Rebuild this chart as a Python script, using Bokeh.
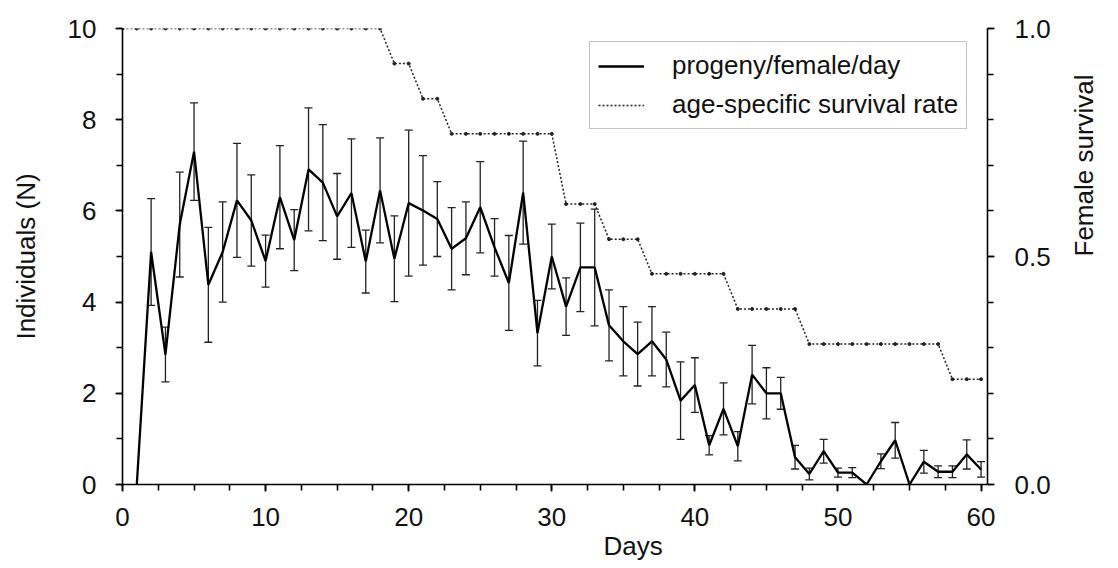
import math
from bokeh.plotting import figure
from bokeh.models import (Range1d, LinearAxis, Whisker, TeeHead, ColumnDataSource,
                          Legend, LegendItem, Title, SingleIntervalTicker, PrintfTickFormatter)
from bokeh.embed import file_html
from bokeh.resources import INLINE

# ---------------- data ----------------
days = [1, 2, 3, 4, 5, 6, 7, 8, 9, 10, 11, 12, 13, 14, 15, 16, 17, 18, 19, 20,
        21, 22, 23, 24, 25, 26, 27, 28, 29, 30, 31, 32, 33, 34, 35, 36, 37, 38, 39, 40,
        41, 42, 43, 44, 45, 46, 47, 48, 49, 50, 51, 52, 53, 54, 55, 56, 57, 58, 59, 60]
progeny = [0.0, 5.1, 2.85, 5.7, 7.3, 4.38, 5.1, 6.23, 5.79, 4.9,
           6.3, 5.36, 6.91, 6.62, 5.88, 6.39, 4.89, 6.45, 4.95, 6.17,
           6.01, 5.82, 5.17, 5.4, 6.08, 5.2, 4.42, 6.4, 3.32, 5.0,
           3.9, 4.76, 4.76, 3.49, 3.14, 2.86, 3.14, 2.74, 1.84, 2.18,
           0.86, 1.66, 0.84, 2.41, 2.0, 2.0, 0.6, 0.23, 0.73, 0.26,
           0.26, 0.0, 0.51, 0.97, 0.0, 0.5, 0.28, 0.28, 0.66, 0.33]
progeny_se = [0.0, 1.17, 0.6, 1.15, 1.07, 1.26, 1.1, 1.25, 1.0, 0.57,
              1.13, 0.67, 1.35, 1.27, 0.94, 1.19, 0.69, 1.15, 0.94, 1.6,
              1.2, 0.82, 0.9, 0.8, 1.0, 0.63, 1.04, 1.13, 0.72, 0.71,
              0.63, 0.97, 1.28, 0.78, 0.76, 0.7, 0.76, 0.6, 0.85, 0.6,
              0.21, 0.57, 0.32, 0.64, 0.56, 0.35, 0.26, 0.13, 0.26, 0.1,
              0.11, 0.0, 0.16, 0.39, 0.0, 0.25, 0.13, 0.13, 0.32, 0.17]
surv_days = [0, 1, 2, 3, 4, 5, 6, 7, 8, 9, 10, 11, 12, 13, 14, 15, 16, 17, 18, 19, 20,
             21, 22, 23, 24, 25, 26, 27, 28, 29, 30, 31, 32, 33, 34, 35, 36, 37, 38, 39, 40,
             41, 42, 43, 44, 45, 46, 47, 48, 49, 50, 51, 52, 53, 54, 55, 56, 57, 58, 59, 60]
survival = [1.0, 1.0, 1.0, 1.0, 1.0, 1.0, 1.0, 1.0, 1.0, 1.0, 1.0,
            1.0, 1.0, 1.0, 1.0, 1.0, 1.0, 1.0, 1.0, 0.923, 0.923,
            0.846, 0.846, 0.769, 0.769, 0.769, 0.769, 0.769, 0.769, 0.769, 0.769,
            0.615, 0.615, 0.615, 0.538, 0.538, 0.538, 0.462, 0.462, 0.462, 0.462,
            0.462, 0.462, 0.385, 0.385, 0.385, 0.385, 0.385, 0.308, 0.308, 0.308,
            0.308, 0.308, 0.308, 0.308, 0.308, 0.308, 0.308, 0.231, 0.231, 0.231]

FONT = "Liberation Sans"
W, H = 1116, 566

p = figure(width=W, height=H, output_backend="svg", toolbar_location=None,
           x_range=Range1d(0, 60.45), y_range=Range1d(0, 10),
           min_border_left=122, min_border_right=W - 993,
           min_border_top=28, min_border_bottom=H - 484)
p.extra_y_ranges = {"surv": Range1d(0, 1)}
p.grid.visible = False
p.outline_line_color = None
p.background_fill_color = "white"
p.border_fill_color = "white"

def style_axis(ax):
    ax.axis_line_width = 1.6
    ax.axis_line_color = "black"
    ax.major_tick_line_width = 1.6
    ax.minor_tick_line_width = 1.6
    ax.major_tick_out = 7
    ax.major_tick_in = 0
    ax.minor_tick_out = 6
    ax.minor_tick_in = 0
    ax.major_label_text_font = FONT
    ax.major_label_text_font_size = "26px"
    ax.major_label_text_color = "#111111"
    ax.axis_label_text_font = FONT
    ax.axis_label_text_font_size = "26px"
    ax.axis_label_text_font_style = "normal"
    ax.axis_label_text_color = "#111111"

# x axis
xa = p.xaxis[0]
style_axis(xa)
xa.ticker = SingleIntervalTicker(interval=10, num_minor_ticks=4)
xa.major_label_standoff = 16
xa.axis_label = None

# left y axis
ya = p.yaxis[0]
style_axis(ya)
ya.ticker = SingleIntervalTicker(interval=2, num_minor_ticks=2)
ya.major_label_standoff = 19
ya.axis_label = "Individuals (N)"
ya.axis_label_standoff = 24

# right axis
ra = LinearAxis(y_range_name="surv")
style_axis(ra)
ra.ticker = SingleIntervalTicker(interval=0.5, num_minor_ticks=5)
ra.formatter = PrintfTickFormatter(format="%.1f")
ra.major_label_standoff = 20
ra.axis_label = "Female survival"
ra.axis_label_standoff = 30
ra.axis_label_orientation = math.pi / 2
p.add_layout(ra, "right")

# x-axis title, positioned as in the reference
p.add_layout(Title(text="Days", align="left", offset=481, standoff=0,
                   text_font=FONT, text_font_size="26px", text_font_style="normal",
                   text_color="#111111"), "below")

# survival (dotted step line)
ss = ColumnDataSource(dict(x=surv_days, y=survival))
r_surv = p.line("x", "y", source=ss, y_range_name="surv", line_color="#222222",
                line_width=1.5, line_dash="2 2")
p.scatter("x", "y", source=ss, y_range_name="surv", marker="circle",
          size=3, fill_color="#222222", line_color="#222222")

# progeny with error bars
ps = ColumnDataSource(dict(x=days, y=progeny))
eb_x = [d for d, s in zip(days, progeny_se) if s > 0]
eb_up = [v + s for v, s in zip(progeny, progeny_se) if s > 0]
eb_lo = [v - s for v, s in zip(progeny, progeny_se) if s > 0]
es = ColumnDataSource(dict(x=eb_x, upper=eb_up, lower=eb_lo))
wh = Whisker(base="x", upper="upper", lower="lower", source=es,
             line_color="#222222", line_width=1.3,
             upper_head=TeeHead(size=8, line_color="#222222", line_width=1.3),
             lower_head=TeeHead(size=8, line_color="#222222", line_width=1.3))
p.add_layout(wh)
r_line = p.line("x", "y", source=ps, line_color="black", line_width=2.3)

legend = Legend(items=[LegendItem(label="progeny/female/day", renderers=[r_line]),
                       LegendItem(label="age-specific survival rate", renderers=[r_surv])],
                location=(467, 355), orientation="vertical",
                label_text_font=FONT, label_text_font_size="26px", label_text_color="#111111",
                glyph_width=46, glyph_height=30, label_height=30, label_standoff=28,
                spacing=8, padding=8, margin=0,
                border_line_color="#888888", border_line_width=1.5,
                background_fill_color="white", background_fill_alpha=1.0)
p.add_layout(legend)

open("out.html", "w").write(file_html(p, INLINE))
